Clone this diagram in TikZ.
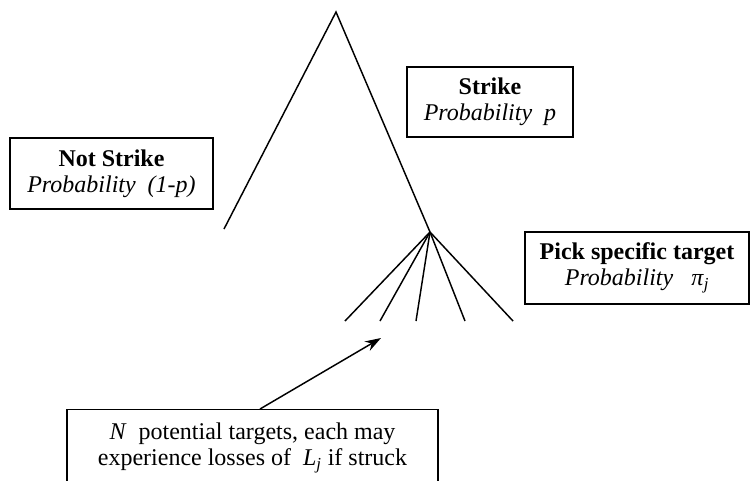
\documentclass[tikz,border=0pt]{standalone}
\usepackage{fontspec}
\setmainfont{LiberationSerif}[Extension=.ttf, UprightFont=*-Regular, BoldFont=*-Bold, ItalicFont=*-Italic, BoldItalicFont=*-BoldItalic]
\usetikzlibrary{arrows.meta}

\begin{document}
\begin{tikzpicture}[
        x=0.75pt, y=-0.75pt,
        branch/.style={line width=1.1pt},
        infobox/.style={rectangle, draw, line width=1.1pt, align=center, inner sep=2pt, font=\rmfamily\fontsize{18}{19.5}\selectfont},
        pointer/.style={line width=1.1pt, -{Stealth[length=12pt, width=8pt]}}
    ]
        \useasboundingbox (0,0) rectangle (752,480);

        % Tree points
        \coordinate (apex) at (336,12);
        \coordinate (no_end) at (224,229);
        \coordinate (fork) at (430,232);
        \coordinate (leaf_a) at (345,321);
        \coordinate (leaf_b) at (380,321);
        \coordinate (leaf_c) at (416,321);
        \coordinate (leaf_d) at (465,321);
        \coordinate (leaf_e) at (513,321);

        % Strike / not strike branches
        \draw[branch] (no_end) -- (apex) -- (fork);

        % Target branches
        \draw[branch] (fork) -- (leaf_a);
        \draw[branch] (fork) -- (leaf_b);
        \draw[branch] (fork) -- (leaf_c);
        \draw[branch] (fork) -- (leaf_d);
        \draw[branch] (fork) -- (leaf_e);

        % Labels
        \node[infobox, minimum width=152pt, minimum height=53pt] (not_strike) at (111.5,173.5)
            {\textbf{Not Strike}\\ \textit{Probability ~(1-p)}};
        \node[infobox, minimum width=124.5pt, minimum height=52.5pt] (strike) at (490,102)
            {\textbf{Strike}\\ \textit{Probability ~p}};
        \node[infobox, minimum width=168pt, minimum height=54pt] (pick) at (637,268)
            {\textbf{Pick specific target}\\ \textit{Probability ~~π}\textsubscript{\textit{j}}};
        \node[infobox, anchor=north, minimum width=278pt, minimum height=57pt] (targets) at (252.5,409)
            {\textit{N} ~potential targets, each may\\ experience losses of ~\textit{L}\textsubscript{\textit{j}} if struck};

        % Pointer to the targets
        \coordinate (target_tip) at (381,338);
        \draw[pointer] (targets.north -| 260,0) -- (target_tip);

    \end{tikzpicture}
\end{document}
